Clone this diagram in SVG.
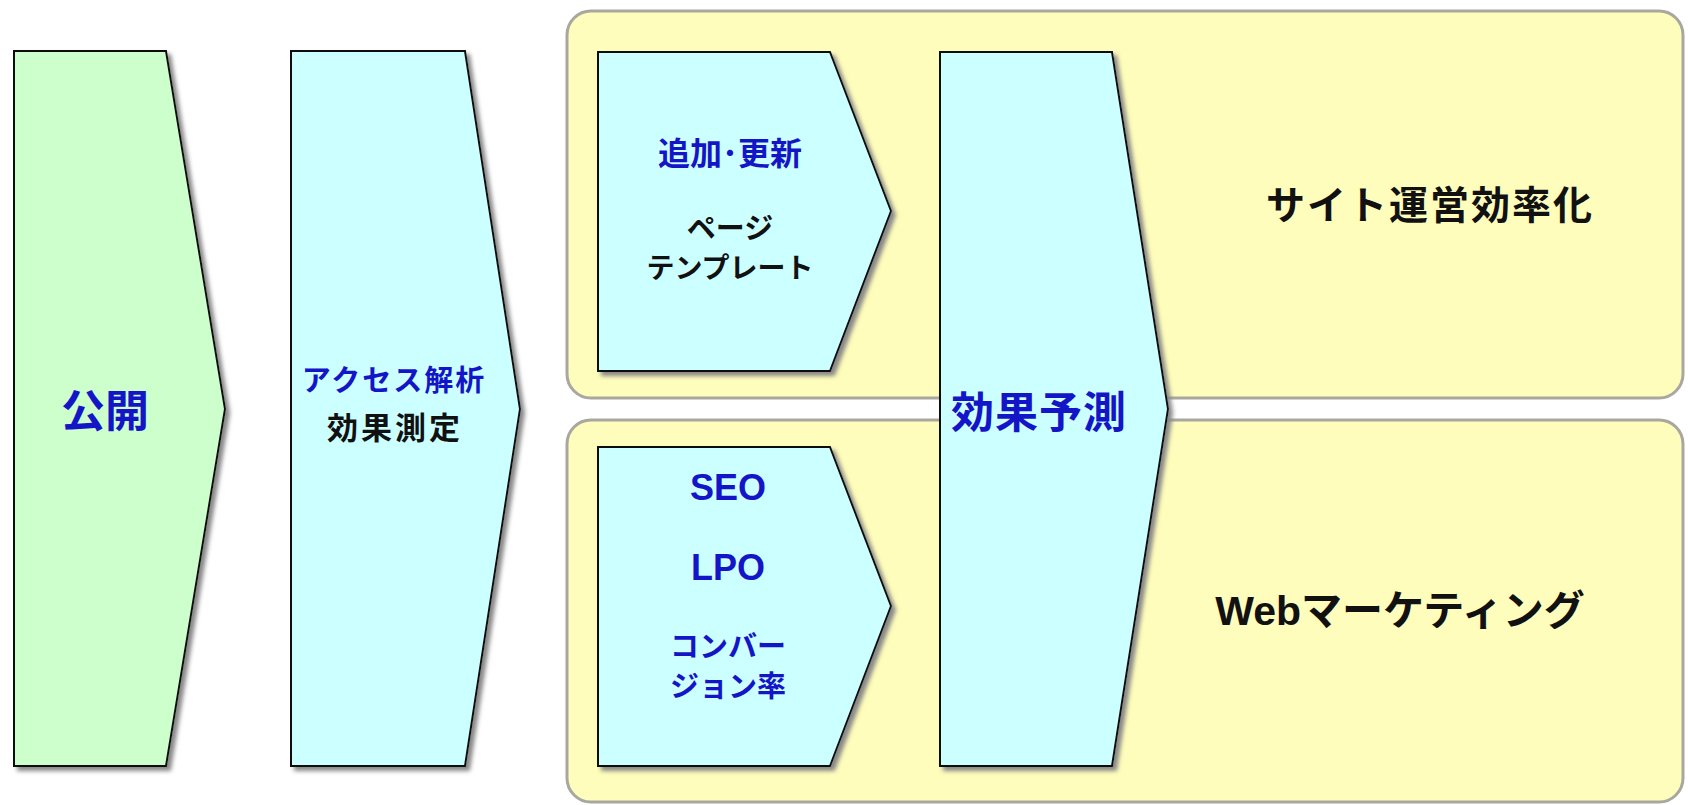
<svg xmlns="http://www.w3.org/2000/svg" width="1688" height="805" viewBox="0 0 1688 805">
<defs>
<filter id="sh" x="-10%" y="-10%" width="130%" height="130%">
<feGaussianBlur in="SourceAlpha" stdDeviation="2"/>
<feOffset dx="4" dy="4" result="b"/>
<feFlood flood-color="#888"/>
<feComposite in2="b" operator="in"/>
<feMerge><feMergeNode/><feMergeNode in="SourceGraphic"/></feMerge>
</filter>
</defs>
<style>
.panel{fill:#FFFDBB;stroke:#A8A8A0;stroke-width:3}
.g{fill:#CCFFCC;stroke:#111;stroke-width:2;filter:url(#sh)}
.c{fill:#CCFFFF;stroke:#111;stroke-width:2;filter:url(#sh)}
text{font-family:"Liberation Sans","Noto Sans CJK JP",sans-serif;font-weight:bold;text-anchor:middle}
.b{fill:#1515C8}
.k{fill:#111}
</style>
<rect width="1688" height="805" fill="#fff"/>
<g id="panel-top"><rect class="panel" x="567" y="11" width="1116" height="387" rx="24"/></g>
<g id="panel-bottom"><rect class="panel" x="567" y="420" width="1116" height="382" rx="24"/></g>
<g id="kokai">
<polygon class="g" points="14,51 166,51 225,409 166,766 14,766"/>
<text class="b" x="105" y="427" font-size="44">公開</text>
</g>
<g id="access">
<polygon class="c" points="291,51 465,51 520,409 465,766 291,766"/>
<text class="b" x="394" y="391" font-size="29" letter-spacing="2">アクセス解析</text>
<text class="k" x="395" y="439" font-size="31" letter-spacing="3">効果測定</text>
</g>
<g id="update">
<polygon class="c" points="598,52 830,52 891,211 830,371 598,371"/>
<text class="b" x="730" y="165" font-size="32">追加･更新</text>
<text class="k" x="730" y="239" font-size="29">ページ</text>
<text class="k" x="730" y="278" font-size="28">テンプレート</text>
</g>
<g id="marketing">
<polygon class="c" points="598,447 830,447 891,606 830,766 598,766"/>
<text class="b" x="728" y="500" font-size="36">SEO</text>
<text class="b" x="728" y="580" font-size="36">LPO</text>
<text class="b" x="728" y="657" font-size="29">コンバー</text>
<text class="b" x="728" y="697" font-size="29">ジョン率</text>
</g>
<g id="predict">
<polygon class="c" points="940,52 1112,52 1168,409 1112,766 940,766"/>
<text class="b" x="1039" y="428" font-size="43" letter-spacing="1">効果予測</text>
</g>
<g id="label-top"><text class="k" x="1430" y="219" font-size="39" letter-spacing="2">サイト運営効率化</text></g>
<g id="label-bottom"><text class="k" x="1400" y="625" font-size="41">Webマーケティング</text></g>
<g id="connectors"></g>
</svg>
